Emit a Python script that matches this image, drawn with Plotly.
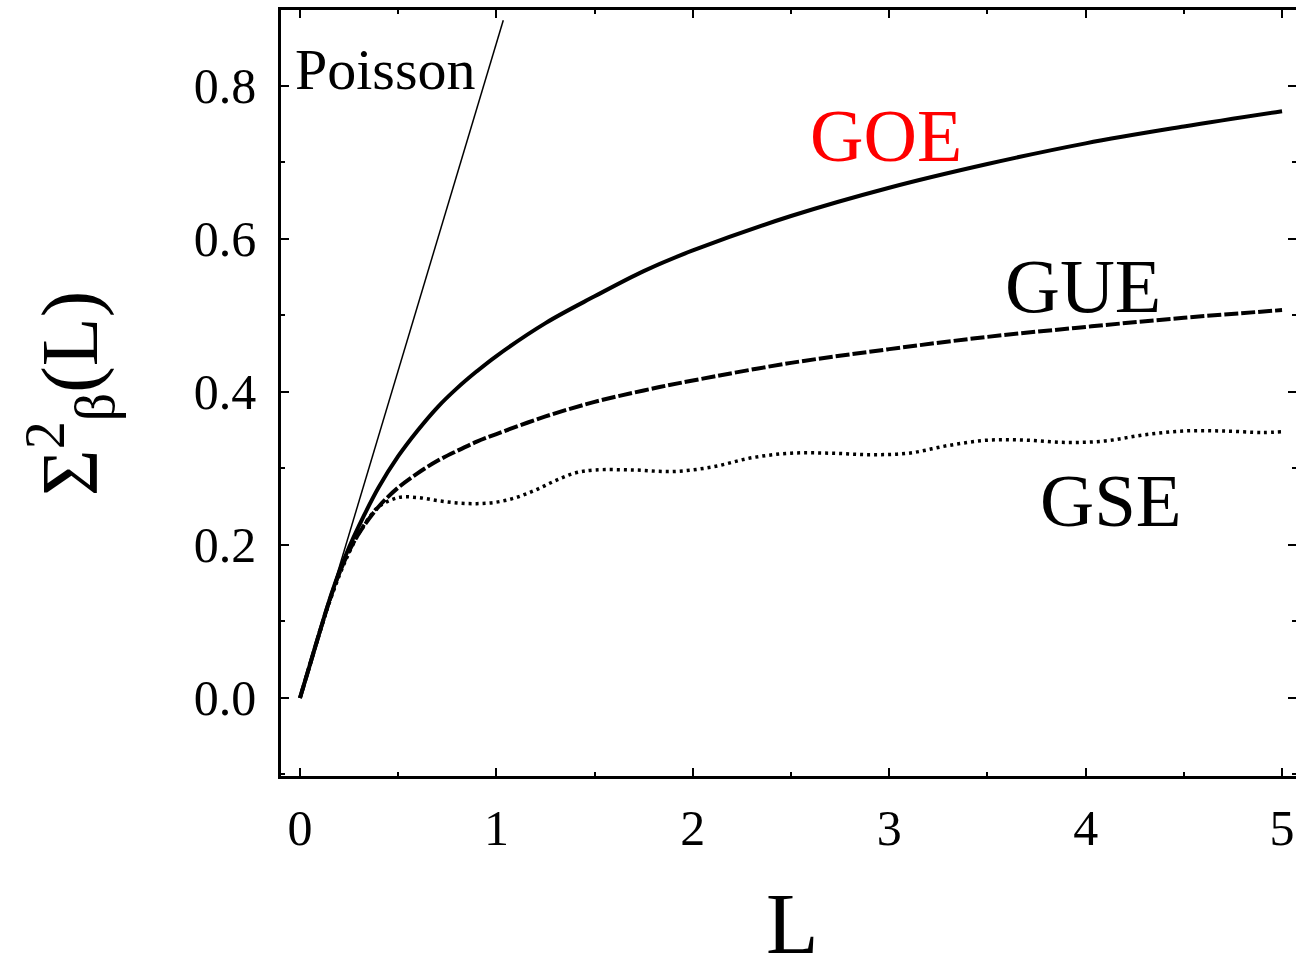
import plotly.graph_objects as go

# ---- data ----
L_goe = [0, 0.05, 0.1, 0.15, 0.2, 0.25, 0.3, 0.4, 0.5, 0.6, 0.7, 0.8, 0.9, 1.0,
         1.25, 1.5, 1.75, 2.0, 2.5, 3.0, 3.5, 4.0, 4.5, 5.0]
goe = [0, 0.043, 0.086, 0.128, 0.165, 0.197, 0.225, 0.275, 0.316, 0.350, 0.380,
       0.405, 0.427, 0.447, 0.490, 0.525, 0.558, 0.585, 0.630, 0.667, 0.698,
       0.725, 0.747, 0.767]

L_gue = [0, 0.05, 0.1, 0.15, 0.2, 0.25, 0.3, 0.4, 0.5, 0.6, 0.7, 0.8, 0.9, 1.0,
         1.25, 1.5, 1.75, 2.0, 2.5, 3.0, 3.5, 4.0, 4.5, 5.0]
gue = [0, 0.043, 0.086, 0.127, 0.163, 0.192, 0.215, 0.250, 0.275, 0.294, 0.310,
       0.323, 0.335, 0.345, 0.368, 0.387, 0.402, 0.415, 0.438, 0.456, 0.472,
       0.485, 0.497, 0.507]

L_gse = [0, 0.05, 0.1, 0.15, 0.2, 0.25, 0.3, 0.35, 0.4, 0.5, 0.6, 0.7, 0.8, 0.9,
         1.0, 1.1, 1.2, 1.3, 1.4, 1.5, 1.7, 1.9, 2.1, 2.3, 2.5, 2.7, 2.9, 3.1,
         3.3, 3.5, 3.7, 3.9, 4.1, 4.3, 4.5, 4.7, 4.9, 5.0]
gse = [0, 0.043, 0.085, 0.125, 0.160, 0.190, 0.215, 0.235, 0.250, 0.262, 0.262,
       0.258, 0.255, 0.254, 0.256, 0.262, 0.272, 0.284, 0.294, 0.298, 0.298,
       0.296, 0.302, 0.314, 0.320, 0.320, 0.318, 0.320, 0.330, 0.337, 0.337,
       0.334, 0.336, 0.344, 0.349, 0.349, 0.347, 0.348]

L_poisson = [0, 1.035]
poisson = [0, 0.886]

x_ticks = [0, 1, 2, 3, 4, 5]
y_ticks = [0.0, 0.2, 0.4, 0.6, 0.8]

FONT = "Liberation Serif"
X_RANGE = [-0.0967, 5.071]
Y_RANGE = [-0.102, 0.8993]

fig = go.Figure()
fig.add_trace(go.Scatter(x=L_poisson, y=poisson, mode="lines",
                         line=dict(color="black", width=1.5), name="Poisson"))
fig.add_trace(go.Scatter(x=L_goe, y=goe, mode="lines", line_shape="spline",
                         line=dict(color="black", width=4), name="GOE"))
fig.add_trace(go.Scatter(x=L_gue, y=gue, mode="lines", line_shape="spline",
                         line=dict(color="black", width=4, dash="14px,3px"), name="GUE"))
fig.add_trace(go.Scatter(x=L_gse, y=gse, mode="lines", line_shape="spline",
                         line=dict(color="black", width=3.5, dash="3px,4px"), name="GSE"))
# invisible trace to carry the right-hand tick axis
fig.add_trace(go.Scatter(x=[L_goe[0]], y=[goe[0]], yaxis="y2", mode="lines",
                         line=dict(width=0), hoverinfo="skip", showlegend=False))

tickfont = dict(family=FONT, size=50, color="black")

fig.update_layout(
    xaxis=dict(range=X_RANGE, tickvals=x_ticks, showgrid=False, zeroline=False,
               showline=True, linecolor="black", linewidth=2.5, mirror="ticks",
               ticks="inside", ticklen=8, tickwidth=2, tickcolor="black",
               minor=dict(dtick=0.5, tick0=0, ticks="inside", ticklen=4,
                          tickcolor="black", tickwidth=2),
               tickfont=tickfont, ticklabelstandoff=6),
    yaxis=dict(range=Y_RANGE, tickvals=y_ticks, tickformat=".1f", showgrid=False,
               zeroline=False, showline=True, linecolor="black", linewidth=2.5,
               mirror=False, ticks="inside", ticklen=8, tickwidth=2, tickcolor="black",
               minor=dict(dtick=0.1, tick0=0, ticks="inside", ticklen=4,
                          tickcolor="black", tickwidth=2),
               tickfont=tickfont, ticklabelstandoff=12),
    yaxis2=dict(range=Y_RANGE, overlaying="y", side="right", anchor="x",
                tickvals=y_ticks, showticklabels=False, showgrid=False,
                zeroline=False, showline=False, ticks="inside", ticklen=8,
                tickwidth=2, tickcolor="black",
                minor=dict(dtick=0.1, tick0=0, ticks="inside", ticklen=4,
                           tickcolor="black", tickwidth=2)),
)

ann = [
    dict(text="Poisson", x=-0.035, y=0.822, xanchor="left", yanchor="middle",
         font=dict(family=FONT, size=58, color="black")),
    dict(text="GOE", x=2.587, y=0.735, xanchor="left", yanchor="middle",
         font=dict(family=FONT, size=74, color="#ff0000")),
    dict(text="GUE", x=3.579, y=0.538, xanchor="left", yanchor="middle",
         font=dict(family=FONT, size=76, color="black")),
    dict(text="GSE", x=3.758, y=0.258, xanchor="left", yanchor="middle",
         font=dict(family=FONT, size=75, color="black")),
]
for a in ann:
    fig.add_annotation(xref="x", yref="y", showarrow=False, **a)

fig.add_annotation(text="L", xref="paper", yref="paper", x=0.5035, y=-0.193,
                   xanchor="center", yanchor="middle", showarrow=False,
                   font=dict(family=FONT, size=86, color="black"))
fig.add_annotation(text="Σ<sup>2</sup><sub>β</sub>(L)", xref="paper", yref="paper",
                   x=-0.208, y=0.5, xanchor="center", yanchor="middle",
                   textangle=-90, showarrow=False,
                   font=dict(family=FONT, size=80, color="black"))

fig.update_layout(width=1296, height=963, margin=dict(l=281, r=0, t=10, b=187),
                  paper_bgcolor="white", plot_bgcolor="white", showlegend=False)

fig.write_html("out.html")
